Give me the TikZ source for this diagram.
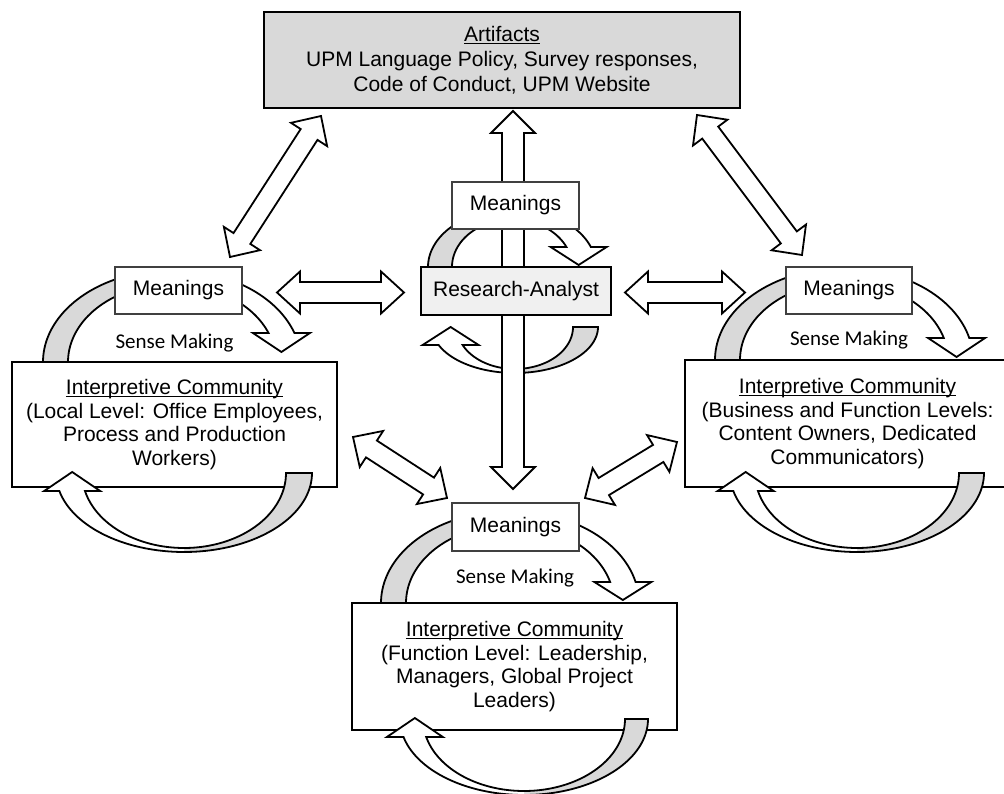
\documentclass[tikz,border=0pt]{standalone}
\usepackage{fontspec}
\setmainfont{Liberation Sans}
\newfontfamily\calib{Carlito}
\usetikzlibrary{calc}
\definecolor{bandg}{HTML}{D9D9D9}
\definecolor{artfill}{HTML}{D9D9D9}
\definecolor{rafill}{HTML}{F0F0F0}
\newcommand\myul[1]{\setbox0\hbox{#1}\rlap{\rule[-2.4pt]{\wd0}{1.1pt}}\box0}
\tikzset{
  bigbox/.style={draw=black, line width=2pt, fill=white, minimum width=325pt, minimum height=125pt, inner sep=0pt, align=center, font=\fontsize{21}{23.7}\selectfont},
  artbox/.style={draw=black, line width=2.2pt, fill=artfill, minimum width=476pt, minimum height=96pt, inner sep=0pt, align=center, font=\fontsize{21}{25}\selectfont},
  meanbox/.style={draw=black!75, line width=1.1pt, fill=white, minimum width=127pt, minimum height=47pt, inner sep=0pt, font=\fontsize{21}{24}\selectfont},
  rabox/.style={draw=black, line width=1.8pt, fill=rafill, minimum width=190pt, minimum height=48pt, inner sep=0pt, font=\fontsize{21}{24}\selectfont},
  sensetxt/.style={font=\calib\fontsize{21}{24}\selectfont, inner sep=0pt},
  arrowbody/.style={draw=black, line width=1.8pt, fill=white, line join=miter},
  archline/.style={draw=black, line width=1.8pt, line join=miter},
}
% double arrow: tipA, tipB, shaft half width, head half width, head length
\newcommand\dblarrow[5]{%
  \path ($(#1)!#5!(#2)$) coordinate (dbA) ($(#2)!#5!(#1)$) coordinate (dbB);
  \draw[arrowbody] (#1) -- ($(dbA)!#4!90:(#2)$) -- ($(dbA)!#3!90:(#2)$) -- ($(dbB)!#3!-90:(#1)$) -- ($(dbB)!#4!-90:(#1)$) -- (#2) -- ($(dbB)!#4!90:(#1)$) -- ($(dbB)!#3!90:(#1)$) -- ($(dbA)!#3!-90:(#2)$) -- ($(dbA)!#4!-90:(#2)$) -- cycle;
}
% arch above: cx cy rxo ryo rxi ryi headdy tiplen headhalfw
\newcommand\archup[9]{%
  \pgfmathsetmacro\aO{360-asin(#7/#4)}%
  \pgfmathsetmacro\aI{360-asin(#7/#6)}%
  \pgfmathsetmacro\pOx{#1+#3*cos(\aO)}%
  \pgfmathsetmacro\pIx{#1+#5*cos(\aI)}%
  \pgfmathsetmacro\hX{(\pOx+\pIx)/2}%
  \fill[bandg] plot[domain=180:270,samples=40] ({#1+#3*cos(\x)},{#2+#4*sin(\x)}) -- plot[domain=270:180,samples=40] ({#1+#5*cos(\x)},{#2+#6*sin(\x)}) -- cycle;
  \fill[white] plot[domain=270:\aO,samples=40] ({#1+#3*cos(\x)},{#2+#4*sin(\x)}) -- ({\hX+#9},{#2-#7}) -- ({\hX},{#2-#7+#8}) -- ({\hX-#9},{#2-#7}) -- plot[domain=\aI:270,samples=40] ({#1+#5*cos(\x)},{#2+#6*sin(\x)}) -- cycle;
  \draw[archline] plot[domain=180:\aO,samples=80] ({#1+#3*cos(\x)},{#2+#4*sin(\x)}) -- ({\hX+#9},{#2-#7}) -- ({\hX},{#2-#7+#8}) -- ({\hX-#9},{#2-#7}) -- plot[domain=\aI:180,samples=80] ({#1+#5*cos(\x)},{#2+#6*sin(\x)}) -- cycle;
}
% arch below
\newcommand\archdown[9]{%
  \pgfmathsetmacro\aO{180-asin(#7/#4)}%
  \pgfmathsetmacro\aI{180-asin(#7/#6)}%
  \pgfmathsetmacro\pOx{#1+#3*cos(\aO)}%
  \pgfmathsetmacro\pIx{#1+#5*cos(\aI)}%
  \pgfmathsetmacro\hX{(\pOx+\pIx)/2}%
  \fill[bandg] plot[domain=0:90,samples=40] ({#1+#3*cos(\x)},{#2+#4*sin(\x)}) -- plot[domain=90:0,samples=40] ({#1+#5*cos(\x)},{#2+#6*sin(\x)}) -- cycle;
  \fill[white] plot[domain=90:\aO,samples=40] ({#1+#3*cos(\x)},{#2+#4*sin(\x)}) -- ({\hX-#9},{#2+#7}) -- ({\hX},{#2+#7-#8}) -- ({\hX+#9},{#2+#7}) -- plot[domain=\aI:90,samples=40] ({#1+#5*cos(\x)},{#2+#6*sin(\x)}) -- cycle;
  \draw[archline] plot[domain=0:\aO,samples=80] ({#1+#3*cos(\x)},{#2+#4*sin(\x)}) -- ({\hX-#9},{#2+#7}) -- ({\hX},{#2+#7-#8}) -- ({\hX+#9},{#2+#7}) -- plot[domain=\aI:0,samples=80] ({#1+#5*cos(\x)},{#2+#6*sin(\x)}) -- cycle;
}
\begin{document}
\begin{tikzpicture}[x=1pt,y=-1pt]
\useasboundingbox (0,0) rectangle (1004,794);
\clip (0,0) rectangle (1004,794);
\fill[white] (0,0) rectangle (1004,794);

% boxes
\node[artbox] (art) at (502,60) {\myul{Artifacts}\\UPM Language Policy, Survey responses,\\Code of Conduct, UPM Website};
\node[bigbox] (icl) at (174.5,424.5) {\myul{Interpretive Community}\\(Local Level: Office Employees,\\Process and Production\\Workers)};
\node[bigbox, minimum height=127pt] (icr) at (847.5,423.5) {\myul{Interpretive Community}\\(Business and Function Levels:\\Content Owners, Dedicated\\Communicators)};
\node[bigbox, minimum height=127pt] (icb) at (514.5,666.5) {\myul{Interpretive Community}\\(Function Level: Leadership,\\Managers, Global Project\\Leaders)};

% sense-making arches
\archup{172}{362}{129}{92}{104}{78}{29}{19}{28.5}
\archup{844}{360}{129}{92}{104}{78}{22}{19}{28.5}
\archup{510}{603}{129}{92}{104}{78}{21}{18}{28.5}
\archdown{184}{473}{128}{79}{102}{75}{18}{19}{28}
\archdown{857}{473}{127}{79}{102}{75}{18}{19}{28}
\archdown{524}{719}{124}{76}{101}{72}{18}{19}{28}
% analyst arches
\archup{512}{267}{84}{58}{60}{47.5}{20}{18}{28}
\archdown{515}{327}{83}{46}{58}{42}{18}{18}{28}

% vertical double arrow
\coordinate (vA) at (513,111);
\coordinate (vB) at (513,489);
\dblarrow{vA}{vB}{11pt}{22pt}{22pt}

% meanings and analyst
\node[meanbox] (mc) at (515.5,205.5) {Meanings};
\node[rabox] (ra) at (516,291) {Research-Analyst};
\node[meanbox] (ml) at (178.5,290.5) {Meanings};
\node[meanbox, minimum width=126pt] (mr) at (849,290.5) {Meanings};
\node[meanbox, minimum height=48pt] (mb) at (515.5,527) {Meanings};
\node[sensetxt] (sl) at (174.5,343) {Sense Making};
\node[sensetxt] (sr) at (849,340) {Sense Making};
\node[sensetxt] (sb) at (515,578) {Sense Making};

% horizontal double arrows
\coordinate (hlA) at (277,292.5);
\coordinate (hlB) at (404,292.5);
\dblarrow{hlA}{hlB}{10.5pt}{21pt}{23pt}
\coordinate (hrA) at (625,292.5);
\coordinate (hrB) at (745,292.5);
\dblarrow{hrA}{hrB}{10.5pt}{21pt}{23pt}

% diagonal double arrows
\coordinate (ulA) at (321,116);
\coordinate (ulB) at (230,257);
\dblarrow{ulA}{ulB}{10pt}{21.5pt}{22pt}
\coordinate (urA) at (697,115);
\coordinate (urB) at (802,255);
\dblarrow{urA}{urB}{10pt}{21.5pt}{22pt}
\coordinate (llA) at (353,437);
\coordinate (llB) at (447,498);
\dblarrow{llA}{llB}{10pt}{21.5pt}{22pt}
\coordinate (lrA) at (677,442);
\coordinate (lrB) at (585,498);
\dblarrow{lrA}{lrB}{10pt}{21.5pt}{22pt}
\end{tikzpicture}
\end{document}
